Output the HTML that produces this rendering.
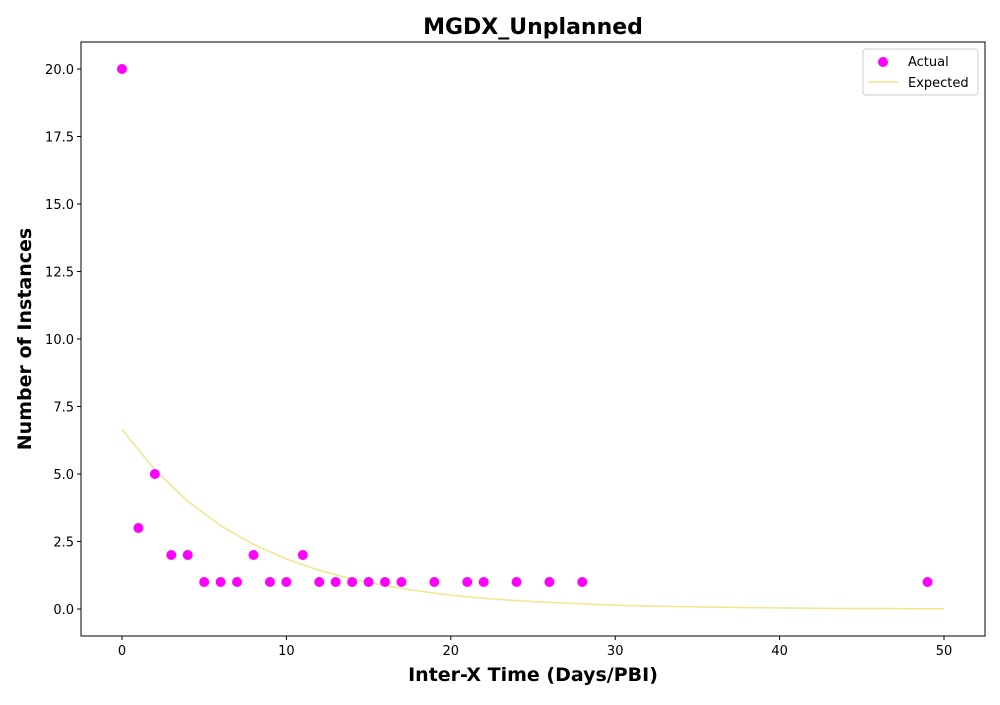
<!DOCTYPE html>
<html><head><meta charset="utf-8"><style>
body{margin:0;background:#fff;}
svg{font-family:"DejaVu Sans","Liberation Sans",sans-serif;}
</style></head><body>
<svg id="chart" width="1000" height="700" xmlns="http://www.w3.org/2000/svg"></svg>
<script>
const actualX=[0,1,2,3,4,5,6,7,8,9,10,11,12,13,14,15,16,17,19,21,22,24,26,28,49];
const actualY=[20,3,5,2,2,1,1,1,2,1,1,2,1,1,1,1,1,1,1,1,1,1,1,1,1];
const expectedX=[0,2,4,6,8,10,12,14,16,18,20,22,24,26,28,30,32,34,36,38,40,42,44,46,48,50];
const expectedY=[6.65,5.15,3.99,3.09,2.39,1.85,1.43,1.11,0.86,0.67,0.51,0.40,0.31,0.24,0.19,0.14,0.11,0.09,0.07,0.05,0.04,0.03,0.02,0.02,0.01,0.01];
const xTicks=[0,10,20,30,40,50];
const yTicks=[0,2.5,5,7.5,10,12.5,15,17.5,20];
const NS="http://www.w3.org/2000/svg";
const svg=document.getElementById('chart');
const L=81,R=985,T=42,B=636;
const sx=v=>122+v*(944-122)/50;
const sy=v=>609-v*(609-69)/20;
function mk(t,a,p){const e=document.createElementNS(NS,t);for(const k in a)e.setAttribute(k,a[k]);(p||svg).appendChild(e);return e;}
const title=mk('text',{x:533,y:34,'text-anchor':'middle','font-size':22,'font-weight':'bold'});title.textContent='MGDX_Unplanned';


const xt=mk('text',{x:533,y:681,'text-anchor':'middle','font-size':19,'font-weight':'bold'});xt.textContent='Inter-X Time (Days/PBI)';


const yt=mk('text',{x:31,y:339,'text-anchor':'middle','font-size':19,'font-weight':'bold',transform:'rotate(-90 31 339)'});yt.textContent='Number of Instances';


xTicks.forEach(v=>{const x=sx(v);mk('line',{x1:x,x2:x,y1:B,y2:B+4,stroke:'#000'});
const t=mk('text',{x:x,y:B+19,'text-anchor':'middle','font-size':13});t.textContent=v;

});
yTicks.forEach(v=>{const y=sy(v);mk('line',{x1:L-4,x2:L,y1:y,y2:y,stroke:'#000'});
const t=mk('text',{x:L-7,y:y+5,'text-anchor':'end','font-size':13});t.textContent=v.toFixed(1);

});
const line=mk('polyline',{points:expectedX.map((x,i)=>sx(x)+','+sy(expectedY[i])).join(' '),fill:'none',stroke:'#f0e68c','stroke-width':1.5});


actualX.forEach((x,i)=>{const c=mk('circle',{cx:sx(x),cy:sy(actualY[i]),r:5,fill:'#ff00ff'});

});
const frame=mk('rect',{x:L,y:T,width:R-L,height:B-T,fill:'none',stroke:'#000','stroke-width':1});


const lg=mk('g',{});


mk('rect',{x:863,y:49,width:115,height:46,rx:3,fill:'#fff',stroke:'#ccc'},lg);
mk('circle',{cx:883,cy:62,r:5,fill:'#ff00ff'},lg);
mk('line',{x1:868,x2:898,y1:82,y2:82,stroke:'#f0e68c','stroke-width':1.5},lg);
const t1=mk('text',{x:908,y:66,'font-size':13},lg);t1.textContent='Actual';


const t2=mk('text',{x:908,y:87,'font-size':13},lg);t2.textContent='Expected';


</script>
</body></html>
